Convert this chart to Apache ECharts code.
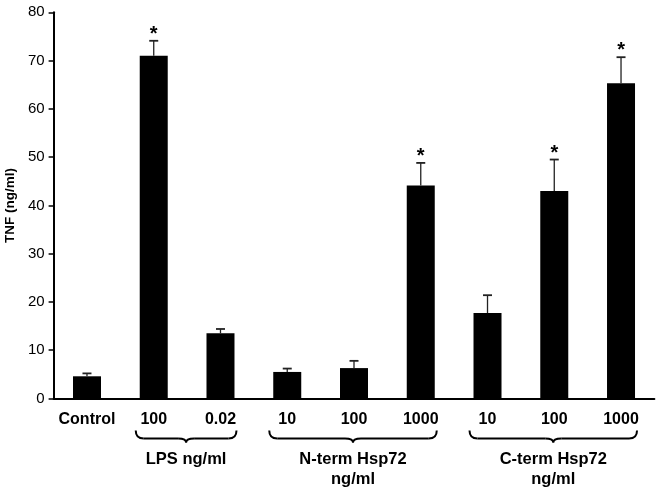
<!DOCTYPE html>
<html>
<head>
<meta charset="utf-8">
<script src="https://cdn.jsdelivr.net/npm/echarts@6/dist/echarts.min.js"></script>
<style>
html,body{margin:0;padding:0;background:#fff;}
#chart{width:662px;height:493px;}
</style>
</head>
<body>
<div id="chart"></div>
<script>
// ---- data ----
var categories = ['Control', '100', '0.02', '10', '100', '1000', '10', '100', '1000'];
var tnfMean = [4.6, 71.0, 13.5, 5.5, 6.3, 44.1, 17.7, 43.0, 65.3];
var tnfErrTop = [5.2, 74.1, 14.4, 6.2, 7.8, 48.8, 21.4, 49.5, 70.7];
var significant = [0, 1, 0, 0, 0, 1, 0, 1, 1];
var groupLabels = ['LPS ng/ml', 'N-term Hsp72\nng/ml', 'C-term Hsp72\nng/ml'];
var groupStart = [1, 3, 6];
var groupEnd = [2, 5, 8];
var yTicks = [0, 10, 20, 30, 40, 50, 60, 70, 80];

var FONT = "'Liberation Sans', Arial, sans-serif";
var chart = echarts.init(document.getElementById('chart'), null, {renderer: 'canvas'});

var errData = categories.map(function (c, i) {
  return [i, tnfMean[i], tnfErrTop[i], significant[i]];
});

chart.setOption({
  animation: false,
  backgroundColor: '#fff',
  grid: {left: 53.6, right: 7.6, top: 12.3, bottom: 94.5, containLabel: false, outerBoundsMode: 'none'},
  xAxis: {
    type: 'category',
    data: categories,
    boundaryGap: true,
    axisLine: {lineStyle: {color: '#000', width: 2}},
    axisTick: {show: false},
    axisLabel: {color: '#000', fontFamily: FONT, fontWeight: 'bold', fontSize: 16, margin: 13, interval: 0}
  },
  yAxis: {
    type: 'value',
    min: yTicks[0],
    max: yTicks[yTicks.length - 1],
    interval: yTicks[1] - yTicks[0],
    name: 'TNF (ng/ml)',
    nameLocation: 'middle',
    nameGap: 36,
    nameTextStyle: {color: '#000', fontFamily: FONT, fontWeight: 'bold', fontSize: 13.5},
    axisLine: {show: true, lineStyle: {color: '#000', width: 2}},
    axisTick: {show: true, length: 5, lineStyle: {color: '#000', width: 1.5}},
    axisLabel: {color: '#000', fontFamily: FONT, fontSize: 15, margin: 9},
    splitLine: {show: false}
  },
  series: [
    {
      type: 'bar',
      data: tnfMean,
      barWidth: 28,
      itemStyle: {color: '#000'},
      z: 2
    },
    {
      type: 'custom',
      data: errData,
      z: 3,
      renderItem: function (params, api) {
        var x = api.value(0);
        var base = api.coord([x, api.value(1)]);
        var top = api.coord([x, api.value(2)]);
        var children = [
          {type: 'line', shape: {x1: base[0], y1: base[1], x2: top[0], y2: top[1]},
           style: {stroke: '#222', lineWidth: 1.3}},
          {type: 'line', shape: {x1: top[0] - 4.5, y1: top[1], x2: top[0] + 4.5, y2: top[1]},
           style: {stroke: '#222', lineWidth: 1.8}}
        ];
        if (api.value(3)) {
          children.push({type: 'text', style: {text: '*', x: top[0], y: top[1] - 6.5,
            textAlign: 'center', textVerticalAlign: 'middle',
            font: 'bold 20px ' + FONT, fill: '#000'}});
        }
        return {type: 'group', children: children};
      }
    }
  ]
});

// ---- braces and group labels (positions derived from axis) ----
var graphics = [];
var y0 = chart.convertToPixel({yAxisIndex: 0}, 0);
var braceStyle = {stroke: '#000', lineWidth: 2, fill: null};
for (var g = 0; g < groupLabels.length; g++) {
  var xa = chart.convertToPixel({xAxisIndex: 0}, groupStart[g]) - 18;
  var xb = chart.convertToPixel({xAxisIndex: 0}, groupEnd[g]) + 16;
  var xm = (xa + xb) / 2;
  var yTop = y0 + 32;
  var yMid = yTop + 8;
  var yTip = yTop + 12;
  var r = 8;
  graphics.push({type: 'bezierCurve', shape: {x1: xa, y1: yTop, cpx1: xa, cpy1: yMid, x2: xa + r, y2: yMid}, style: braceStyle});
  graphics.push({type: 'line', shape: {x1: xa + r, y1: yMid, x2: xm - r, y2: yMid}, style: braceStyle});
  graphics.push({type: 'bezierCurve', shape: {x1: xm - r, y1: yMid, cpx1: xm, cpy1: yMid, x2: xm, y2: yTip}, style: braceStyle});
  graphics.push({type: 'bezierCurve', shape: {x1: xm, y1: yTip, cpx1: xm, cpy1: yMid, x2: xm + r, y2: yMid}, style: braceStyle});
  graphics.push({type: 'line', shape: {x1: xm + r, y1: yMid, x2: xb - r, y2: yMid}, style: braceStyle});
  graphics.push({type: 'bezierCurve', shape: {x1: xb - r, y1: yMid, cpx1: xb, cpy1: yMid, x2: xb, y2: yTop}, style: braceStyle});
  graphics.push({
    type: 'text',
    x: xm,
    y: yTop + 19,
    style: {text: groupLabels[g], textAlign: 'center', textVerticalAlign: 'top',
      font: 'bold 16.5px ' + FONT, fill: '#000', lineHeight: 20}
  });
}
chart.setOption({graphic: graphics});
</script>
</body>
</html>
